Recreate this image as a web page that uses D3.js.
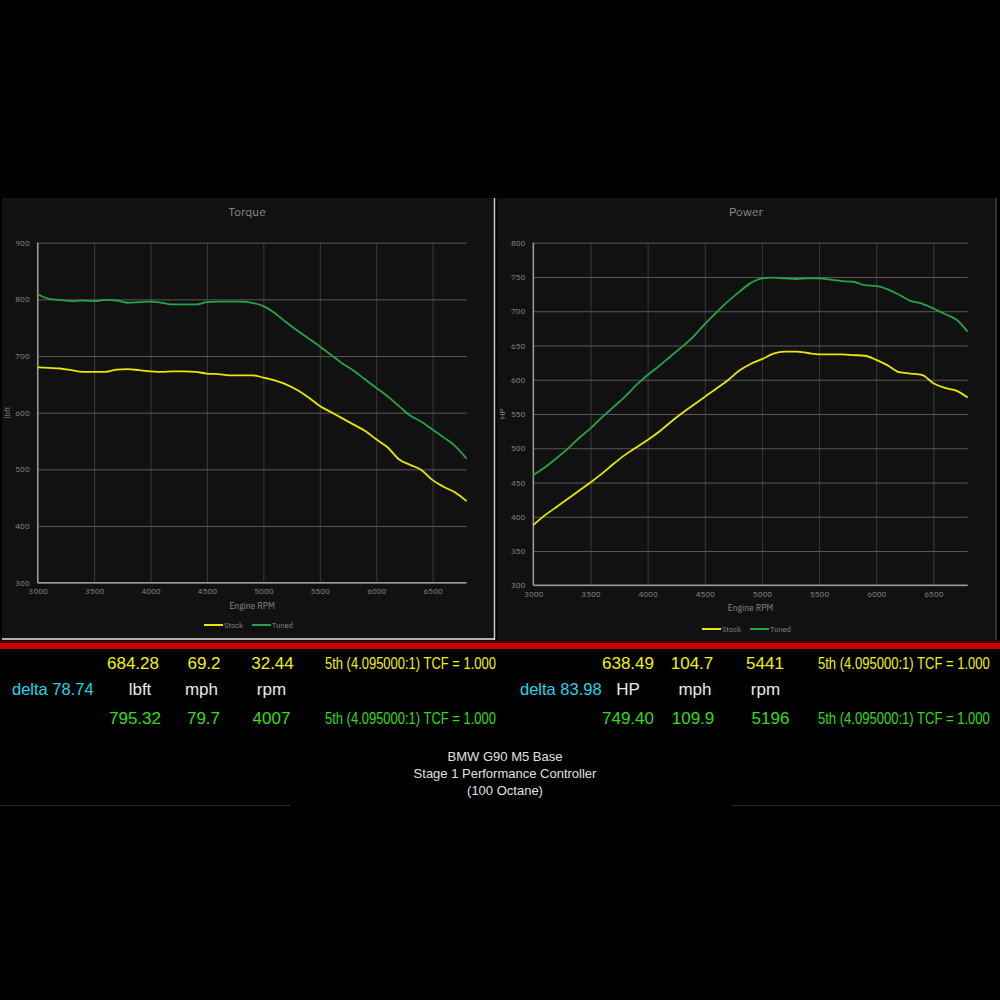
<!DOCTYPE html>
<html><head><meta charset="utf-8">
<script src="https://cdn.jsdelivr.net/npm/d3@7"></script>
<style>
html,body{margin:0;padding:0;background:#000;}
svg{display:block;}
</style></head>
<body>
<svg id="c" width="1000" height="1000"></svg>
<script>
const rpm = [3000,3100,3200,3300,3400,3500,3600,3700,3800,3900,4000,4100,4200,4300,4400,4500,4600,4700,4800,4900,5000,5100,5200,5300,5400,5500,5600,5700,5800,5900,6000,6100,6200,6300,6400,6500,6600,6700,6800];
const torqueStock = [680,679,678,675,672,672,672,676,677,675,673,672,673,673,672,669,668,666,666,666,662,657,650,640,627,612,601,590,579,568,553,539,518,508,499,481,469,459,444];
const torqueTuned = [809,801,799,797,798,797,799,798,794,795,796,794,791,791,791,795,796,796,796,794,788,776,760,745,731,717,702,687,674,659,644,629,612,595,584,570,556,541,519];
const powerStock = [388,402,414,426,438,450,463,477,490,501,512,524,538,551,563,575,587,599,613,623,630,638,641,641,639,637,637,637,636,635,629,621,611,609,607,595,588,584,574];
const powerTuned = [461,472,485,499,515,529,545,560,575,592,607,620,634,648,663,681,698,714,728,741,748,749,748,747,748,748,746,744,743,738,737,732,724,715,711,704,696,688,670];
const xTicks = [3000,3500,4000,4500,5000,5500,6000,6500];
const torqueTicks = [300,400,500,600,700,800,900];
const powerTicks = [300,350,400,450,500,550,600,650,700,750,800];
const seriesNames = ["Stock","Tuned"];
const seriesColors = ["#e8e800","#23a548"];

const rowTorqueStock = ["684.28","69.2","32.44","5th (4.095000:1) TCF = 1.000"];
const rowTorqueUnits = ["delta 78.74","lbft","mph","rpm"];
const rowTorqueTuned = ["795.32","79.7","4007","5th (4.095000:1) TCF = 1.000"];
const rowPowerStock = ["638.49","104.7","5441","5th (4.095000:1) TCF = 1.000"];
const rowPowerUnits = ["delta 83.98","HP","mph","rpm"];
const rowPowerTuned = ["749.40","109.9","5196","5th (4.095000:1) TCF = 1.000"];
const footer = ["BMW G90 M5 Base","Stage 1 Performance Controller","(100 Octane)"];

const svg = d3.select("#c");
svg.append("rect").attr("width",1000).attr("height",1000).attr("fill","#000");

const font = "'IBM Plex Sans', Inter, 'Noto Sans', sans-serif";

function panel(cfg){
  const g = svg.append("g");
  g.append("rect").attr("x",cfg.px).attr("y",cfg.py).attr("width",cfg.pw).attr("height",cfg.ph).attr("fill","#111111");
  const x = d3.scaleLinear().domain([3000,6800]).range([cfg.x0,cfg.x1]);
  const y = d3.scaleLinear().domain(cfg.yDomain).range([cfg.y0,cfg.y1]);
  g.append("g").attr("transform",`translate(0,${cfg.y0})`)
    .call(d3.axisBottom(x).tickValues(xTicks).tickSize(-(cfg.y0-cfg.y1)).tickFormat(""))
    .call(s=>{s.select(".domain").remove(); s.selectAll("line").attr("stroke","#3a3a3a").attr("stroke-width",1);});
  g.append("g").attr("transform",`translate(${cfg.x0},0)`)
    .call(d3.axisLeft(y).tickValues(cfg.yTicks).tickSize(-(cfg.x1-cfg.x0)).tickFormat(""))
    .call(s=>{s.select(".domain").remove(); s.selectAll("line").attr("stroke","#5a5a5a").attr("stroke-width",1);});
  g.append("line").attr("x1",cfg.x0).attr("x2",cfg.x0).attr("y1",cfg.y1).attr("y2",cfg.y0).attr("stroke","#9a9a9a").attr("stroke-width",1.5);
  g.append("line").attr("x1",cfg.x0).attr("x2",cfg.x1).attr("y1",cfg.y0).attr("y2",cfg.y0).attr("stroke","#9a9a9a").attr("stroke-width",1.5);
  g.append("g").attr("transform",`translate(0,${cfg.y0})`)
    .call(d3.axisBottom(x).tickValues(xTicks).tickSize(0).tickPadding(6).tickFormat(d3.format("d")))
    .call(s=>{s.select(".domain").remove(); s.selectAll("text").attr("fill","#8a8a8a").attr("font-size",8).attr("font-family",font);});
  g.append("g").attr("transform",`translate(${cfg.x0},0)`)
    .call(d3.axisLeft(y).tickValues(cfg.yTicks).tickSize(0).tickPadding(8).tickFormat(d3.format("d")))
    .call(s=>{s.select(".domain").remove(); s.selectAll("text").attr("fill","#8a8a8a").attr("font-size",8).attr("font-family",font);});
  g.append("text").attr("x",cfg.tx).attr("y",cfg.py+18).attr("text-anchor","middle").attr("fill","#8a8a8a")
    .attr("font-size",12).attr("font-family",font).text(cfg.title);
  g.append("text").attr("x",(cfg.x0+cfg.x1)/2).attr("y",cfg.y0+26).attr("text-anchor","middle").attr("fill","#8a8a8a")
    .attr("font-size",8.5).attr("font-family",font).text("Engine RPM");
  g.append("text").attr("transform",`translate(${cfg.ylx},${(cfg.y0+cfg.y1)/2}) rotate(-90)`).attr("text-anchor","middle").attr("fill","#8a8a8a")
    .attr("font-size",8).attr("font-family",font).text(cfg.ylabel);
  const line = d3.line().x((d,i)=>x(rpm[i])).y(d=>y(d)).curve(d3.curveMonotoneX);
  cfg.series.forEach((s,k)=>{
    g.append("path").datum(s).attr("d",line).attr("fill","none").attr("stroke",seriesColors[k]).attr("stroke-width",1.8);
  });
  const lx = cfg.legX, ly = cfg.legY;
  seriesNames.forEach((n,k)=>{
    const ox = lx + k*48;
    g.append("line").attr("x1",ox).attr("x2",ox+19).attr("y1",ly).attr("y2",ly).attr("stroke",seriesColors[k]).attr("stroke-width",2);
    g.append("text").attr("x",ox+20).attr("y",ly+3).attr("fill","#8a8a8a").attr("font-size",7.5).attr("font-family",font).text(n);
  });
  return g;
}

panel({px:2,py:198,pw:492,ph:441,x0:37.7,x1:466.5,y0:582.7,y1:242.7,yDomain:[300,900],yTicks:torqueTicks,
  title:"Torque",tx:247,ylabel:"lbft",ylx:10,series:[torqueStock,torqueTuned],legX:204,legY:625});
panel({px:497,py:198,pw:499,ph:442,x0:533.3,x1:967.7,y0:585.3,y1:242.7,yDomain:[300,800],yTicks:powerTicks,
  title:"Power",tx:746,ylabel:"HP",ylx:505,series:[powerStock,powerTuned],legX:702,legY:629});

svg.append("line").attr("x1",494.5).attr("x2",494.5).attr("y1",198).attr("y2",640).attr("stroke","#c8c8c8").attr("stroke-width",1.5);
svg.append("line").attr("x1",2).attr("x2",495).attr("y1",639).attr("y2",639).attr("stroke","#e8e8e8").attr("stroke-width",1.5);
svg.append("line").attr("x1",996).attr("x2",996).attr("y1",198).attr("y2",640).attr("stroke","#5a5a5a").attr("stroke-width",1);
svg.append("rect").attr("x",0).attr("y",640.5).attr("width",1000).attr("height",1.5).attr("fill","#5a0000");
svg.append("rect").attr("x",0).attr("y",643).attr("width",1000).attr("height",6).attr("fill","#d00000");

const tf = "'Liberation Sans', Arial, sans-serif";
function row(vals, xs, y, colors, anchors, longLen){
  vals.forEach((v,i)=>{
    const t = svg.append("text").attr("fill",colors[i])
      .attr("font-size", (anchors[i]==="start" && i===0) ? 16.5 : 17)
      .attr("font-family",tf).attr("text-anchor",anchors[i]).text(v);
    if (i===3 && longLen) {
      const w = t.node().getComputedTextLength();
      const k = longLen / w;
      t.attr("transform",`translate(${xs[i]},${y}) scale(${k},1)`);
    } else {
      t.attr("x",xs[i]).attr("y",y);
    }
  });
}
const Y="#f2f200", G="#33dd11", C="#22d4e8", W="#e8e8e8";
row(rowTorqueStock,[133,204,272.5,325],669,[Y,Y,Y,Y],["middle","middle","middle","start"],171);
row(rowPowerStock,[628,692,765,818],669,[Y,Y,Y,Y],["middle","middle","middle","start"],172);
row(rowTorqueUnits,[12,140,201.5,271.5],695,[C,W,W,W],["start","middle","middle","middle"]);
row(rowPowerUnits,[520,628,695,765.5],695,[C,W,W,W],["start","middle","middle","middle"]);
row(rowTorqueTuned,[135,203.5,271.5,325],724,[G,G,G,G],["middle","middle","middle","start"],171);
row(rowPowerTuned,[628,693,770.5,818],724,[G,G,G,G],["middle","middle","middle","start"],172);

footer.forEach((t,i)=>{
  svg.append("text").attr("x",505).attr("y",761+i*17).attr("text-anchor","middle").attr("fill","#e0e0e0")
    .attr("font-size",13).attr("font-family",tf).text(t);
});
svg.append("line").attr("x1",0).attr("x2",290).attr("y1",805.5).attr("y2",805.5).attr("stroke","#2a2a2a").attr("stroke-width",1);
svg.append("line").attr("x1",732).attr("x2",1000).attr("y1",805.5).attr("y2",805.5).attr("stroke","#2a2a2a").attr("stroke-width",1);
</script>
</body></html>
